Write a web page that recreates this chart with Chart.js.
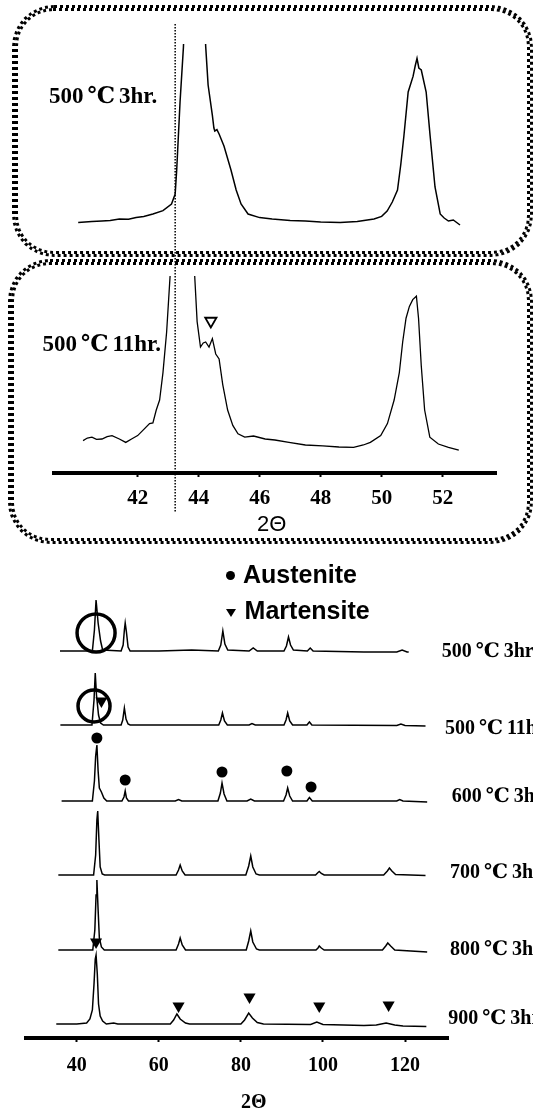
<!DOCTYPE html>
<html>
<head>
<meta charset="utf-8">
<script src="https://cdn.jsdelivr.net/npm/chart.js@4.4.0/dist/chart.umd.min.js"></script>
<style>
  html, body { margin:0; padding:0; background:#fff; }
  #page { position:relative; width:533px; height:1110px; overflow:hidden; }
  canvas { position:absolute; left:0; }
  .lbl { position:absolute; white-space:nowrap; color:#000; line-height:1; }
  .serif { font-family:"Liberation Serif","DejaVu Serif",serif; font-weight:bold; }
  .sans { font-family:"Liberation Sans",Arial,sans-serif; }
  .deg { margin:0 4px; }
  .panel { position:absolute; border:3px dotted #000; border-radius:42px; box-sizing:border-box; }
  .panel::after { content:''; position:absolute; left:0; top:0; right:0; bottom:0; border:3px dotted #000; border-radius:38px; }
</style>
</head>
<body>
<div id="page">
  <canvas id="top1" width="533" height="255" style="top:0"></canvas>
  <canvas id="top2" width="533" height="290" style="top:255px"></canvas>
  <canvas id="bottom" width="533" height="565" style="top:545px"></canvas>

  <div class="panel" style="left:12px;top:5px;width:521px;height:252px"></div>
  <div class="panel" style="left:8px;top:259px;width:525px;height:285px"></div>

  <div class="lbl serif" style="left:49px;top:83.5px;font-size:23px">500<span class="deg">℃</span>3hr.</div>
  <div class="lbl serif" style="left:42.5px;top:332px;font-size:23px">500<span class="deg">℃</span>11hr.</div>
  <div class="lbl sans" style="left:271.7px;top:513px;font-size:22px;transform:translateX(-50%)">2Θ</div>

  <div style="position:absolute;left:225.5px;top:571px;width:9px;height:9px;border-radius:50%;background:#000"></div>
  <div class="lbl sans" style="left:243px;top:561.7px;font-size:25px;font-weight:bold">Austenite</div>
  <div style="position:absolute;left:226px;top:609px;width:0;height:0;border-left:5px solid transparent;border-right:5px solid transparent;border-top:8px solid #000"></div>
  <div class="lbl sans" style="left:244.6px;top:598.3px;font-size:25px;font-weight:bold">Martensite</div>

  <div class="lbl serif" style="left:441.7px;top:640px;font-size:20px">500<span class="deg">℃</span>3hr</div>
  <div class="lbl serif" style="left:445px;top:716.7px;font-size:20px">500<span class="deg">℃</span>11hr</div>
  <div class="lbl serif" style="left:451.7px;top:785px;font-size:20px">600<span class="deg">℃</span>3hr</div>
  <div class="lbl serif" style="left:450px;top:860.7px;font-size:20px">700<span class="deg">℃</span>3hr</div>
  <div class="lbl serif" style="left:450px;top:938.3px;font-size:20px">800<span class="deg">℃</span>3hr</div>
  <div class="lbl serif" style="left:448.3px;top:1007.3px;font-size:20px">900<span class="deg">℃</span>3hr</div>
  <div class="lbl serif" style="left:253.7px;top:1091px;font-size:20px;transform:translateX(-50%)">2Θ</div>
</div>

<script>
// ---- zoomed scans (2θ, counts) ----
const scan500_3h = [
  [40.05,87],[40.5,92],[40.83,95],[41.1,98],[41.4,105],[41.7,104],[41.95,112],[42.2,118],[42.5,130],
  [42.83,147],[43.11,180],[43.23,230],[43.28,350],[43.39,690],[43.5,962],[43.62,1400],[43.9,1600],
  [44.15,1350],[44.23,970],[44.31,775],[44.45,623],[44.5,560],[44.53,545],[44.6,552],[44.67,530],
  [44.83,470],[45.06,350],[45.23,250],[45.39,180],[45.62,130],[46.0,112],[46.41,105],[47.0,98],
  [47.5,95],[48.0,90],[48.64,87],[49.2,92],[49.75,105],[50.0,118],[50.18,145],[50.35,190],[50.52,250],
  [50.63,380],[50.73,520],[50.87,740],[51.03,818],[51.1,870],[51.16,908],[51.22,860],[51.3,850],
  [51.46,740],[51.59,520],[51.75,265],[51.92,130],[52.05,110],[52.19,95],[52.35,100],[52.57,75]
];
const scan500_11h = [
  [40.21,162],[40.35,175],[40.5,179],[40.65,168],[40.83,170],[41.0,182],[41.16,187],[41.4,170],
  [41.61,153],[41.8,170],[42.0,187],[42.17,213],[42.39,247],[42.5,250],[42.61,315],[42.72,365],
  [42.83,502],[42.95,705],[43.06,977],[43.3,1500],[43.6,1700],[43.87,986],[43.95,757],[44.06,630],
  [44.15,650],[44.23,655],[44.34,630],[44.45,672],[44.56,595],[44.67,570],[44.79,442],[44.95,315],
  [45.12,238],[45.29,196],[45.51,179],[45.8,185],[46.18,170],[46.5,165],[46.96,153],[47.5,140],
  [48.07,136],[48.6,130],[49.08,128],[49.4,140],[49.63,153],[49.97,187],[50.19,247],[50.41,365],
  [50.58,502],[50.69,655],[50.8,774],[50.91,833],[51.02,867],[51.14,884],[51.21,774],[51.3,535],
  [51.41,315],[51.58,179],[51.86,145],[52.19,128],[52.53,114]
];
const martensiteTop = [[44.40,760]];
const refTheta = 43.23;
const topTicks = [42,44,46,48,50,52];

// ---- full scans (2θ, relative intensity), stacked by offsets ----
const sampleNames = ['500℃3hr','500℃11hr','600℃3hr','700℃3hr','800℃3hr','900℃3hr'];
const offsets = [387, 313, 237, 163, 88, 14];
const full500_3h = [
  [35.9,0],[40,0],[43.8,0],[44.3,21],[44.7,51],[45.2,28],[45.8,10],[46.3,1],[50.8,0],[51.3,6],[51.6,21],
  [51.8,28],[52.1,19],[52.5,4],[53,0],[60,0],[68,1],[74.5,0],[75.1,6],[75.6,20],[76.1,7],[76.8,1],[82,0],
  [83,3],[84,0],[90.5,0],[91.1,5],[91.6,14],[92.1,6],[92.8,1],[96.2,0],[96.9,3],[97.6,0],[110,-1],
  [118,-1],[119.3,1],[120.5,-1],[120.9,-1]
];
const full500_11h = [
  [36,0],[40,0],[43.7,0],[44.2,25],[44.5,52],[44.8,30],[45.3,10],[45.8,2],[46.5,0],[50.8,0],[51.2,5],
  [51.6,17],[52,6],[52.5,1],[53,0],[74.6,0],[75.1,5],[75.5,12],[76,4],[76.7,0],[82,0],[82.7,1.5],[83.5,0],
  [90.5,0],[91,5],[91.4,12],[91.9,4],[92.6,0],[96.1,0],[96.7,3],[97.3,0],[118,-0.5],[119,1],[120,-0.5],[125,-1]
];
const full600_3h = [
  [36.3,0],[40,0],[43.8,0],[44.3,20],[44.6,45],[44.9,56],[45.2,30],[45.5,13],[46,9],[46.6,3],[47.3,0],
  [51,0],[51.5,4],[51.8,10],[52.1,3],[52.6,0],[64,0],[64.8,1.5],[65.6,0],[74.4,0],[75,8],[75.4,18],
  [75.9,7],[76.6,0],[81.5,0],[82.4,2],[83.3,0],[90.4,0],[91,6],[91.4,13],[91.9,5],[92.6,0],[96.1,0],
  [96.7,3.5],[97.4,0],[118,0],[118.7,1.5],[119.5,0],[125.4,-1]
];
const full700_3h = [
  [35.5,0],[40,0],[44.1,0],[44.6,20],[44.9,55],[45.1,64],[45.4,35],[45.7,8],[46.2,1],[46.8,0],[64.2,0],
  [64.8,5],[65.2,10],[65.7,4],[66.4,0],[81.2,0],[81.9,9],[82.4,19],[82.9,8],[83.7,1],[84.5,0],[98.2,0],
  [98.8,2.5],[99.1,3.5],[99.6,1.5],[100.3,0],[114.8,0],[115.7,4],[116.2,7],[116.8,4],[117.7,0.5],[125,-0.5]
];
const full800_3h = [
  [35.5,0],[40,0],[43.9,0],[44.4,20],[44.7,55],[44.9,70],[45.2,40],[45.5,12],[46,3],[46.7,0],[64.2,0],
  [64.8,6],[65.2,12],[65.7,5],[66.5,0],[81.3,0],[81.9,9],[82.4,19],[82.9,8],[83.8,1],[84.5,0],[98.3,0],
  [98.8,2],[99.1,4],[99.6,2],[100.3,0],[114.5,0],[115.3,4],[115.8,7],[116.5,4],[117.5,0],[125.4,-2]
];
const full900_3h = [
  [35,0],[40,0],[42.4,1],[43.2,5],[43.8,14],[44.2,40],[44.5,65],[44.7,69],[45,50],[45.3,20],[45.7,8],
  [46.3,3],[47.2,0],[49,1],[50,0],[62.8,0],[63.6,4],[64.4,10],[65.2,5],[66.5,1],[67.5,0],[80,0],
  [80.9,4],[81.9,11],[82.8,6],[84,1.5],[85.5,0],[97,-0.5],[98.5,2],[100,-0.5],[110,-1.5],[113,-1],
  [115.4,1],[117.5,-1],[119.5,-2],[125.2,-2.5]
];
const austeniteMarks = [[44.9,300],[51.8,258],[75.4,266],[91.2,267],[97.1,251]];
const martensiteMarks = [[46.0,337],[44.7,96],[64.8,32],[82.1,41],[99.1,32],[116.0,33]];
const circledPeaks = [[44.7,405],[44.2,332]];
const bottomTicks = [40,60,80,100,120];

const xy = arr => arr.map(([x, y]) => ({x, y}));

const refLine = {
  id: 'refLine',
  afterDatasetsDraw(chart, args, opts) {
    const x = chart.scales.x.getPixelForValue(refTheta);
    const ctx = chart.ctx;
    ctx.save();
    ctx.strokeStyle = '#000';
    ctx.lineWidth = 1.5;
    ctx.setLineDash([1.5, 1.5]);
    ctx.beginPath();
    ctx.moveTo(x, opts.from);
    ctx.lineTo(x, opts.to);
    ctx.stroke();
    ctx.restore();
  }
};

const tickFont = size => ({ family: 'Liberation Serif', size: size, weight: 'bold' });
const axisX = (min, max, ticks, h, fontSize, pad) => ({
  type: 'linear', min: min, max: max,
  afterBuildTicks: s => { s.ticks = ticks.map(v => ({value: v})); },
  afterFit: s => { s.height = h; },
  border: { display: true, color: '#000', width: 4 },
  grid: { display: true, drawOnChartArea: false, drawTicks: true, tickLength: 4, tickWidth: 2, tickColor: '#000' },
  ticks: { color: '#000', padding: pad, font: tickFont(fontSize), maxRotation: 0, autoSkip: false }
});

const lineSet = (data, w) => ({ data: data, borderColor: '#000', borderWidth: w, pointRadius: 0, tension: 0 });

// top panel: 500℃ 3hr
new Chart(document.getElementById('top1'), {
  type: 'line',
  data: { datasets: [ lineSet(xy(scan500_3h), 1.5) ] },
  options: {
    responsive: false, animation: false, events: [],
    layout: { padding: { left: 54.4, right: 37, top: 44, bottom: 15 } },
    plugins: { legend: { display: false }, tooltip: { enabled: false }, refLine: { from: 24, to: 255 } },
    scales: {
      x: { type: 'linear', display: false, min: 39.27, max: 53.75 },
      y: { display: false, min: 0, max: 980 }
    }
  },
  plugins: [refLine]
});

// second panel: 500℃ 11hr
new Chart(document.getElementById('top2'), {
  type: 'line',
  data: { datasets: [
    lineSet(xy(scan500_11h), 1.3),
    { data: xy(martensiteTop), showLine: false, pointStyle: 'triangle', pointRotation: 180, pointRadius: 6.5,
      pointBorderWidth: 1.8, pointBackgroundColor: '#fff', pointBorderColor: '#000' }
  ] },
  options: {
    responsive: false, animation: false, events: [],
    layout: { padding: { left: 54.4, right: 37, top: 21, bottom: 0 } },
    plugins: { legend: { display: false }, tooltip: { enabled: false }, refLine: { from: 0, to: 257 } },
    scales: {
      x: axisX(39.27, 53.75, topTicks, 72, 21, 9),
      y: { display: false, min: 0, max: 985 }
    }
  },
  plugins: [refLine]
});

// stacked full-range scans
const fullScans = [full500_3h, full500_11h, full600_3h, full700_3h, full800_3h, full900_3h];
const bottomSets = fullScans.map((scan, i) => {
  const d = lineSet(scan.map(([x, y]) => ({x: x, y: y + offsets[i]})), 1.5);
  d.label = sampleNames[i];
  return d;
});
bottomSets.push(
  { label: 'Austenite', data: xy(austeniteMarks), showLine: false, pointStyle: 'circle', pointRadius: 5.5,
    pointBackgroundColor: '#000', pointBorderColor: '#000', pointBorderWidth: 0 },
  { label: 'Martensite', data: xy(martensiteMarks), showLine: false, pointStyle: 'triangle', pointRotation: 180,
    pointRadius: 7, pointBackgroundColor: '#000', pointBorderColor: '#000', pointBorderWidth: 0 },
  { label: 'circled', data: xy(circledPeaks), showLine: false, pointStyle: 'circle', pointRadius: [19, 16],
    pointBackgroundColor: 'rgba(0,0,0,0)', pointBorderColor: '#000', pointBorderWidth: 3.5 }
);

new Chart(document.getElementById('bottom'), {
  type: 'line',
  data: { datasets: bottomSets },
  options: {
    responsive: false, animation: false, events: [],
    layout: { padding: { left: 25.5, right: 84.5, top: 45, bottom: 0 } },
    plugins: { legend: { display: false }, tooltip: { enabled: false } },
    scales: {
      x: axisX(27.5, 130.6, bottomTicks, 72, 20, 12),
      y: { display: false, min: 0, max: 448 }
    }
  }
});
</script>
</body>
</html>
